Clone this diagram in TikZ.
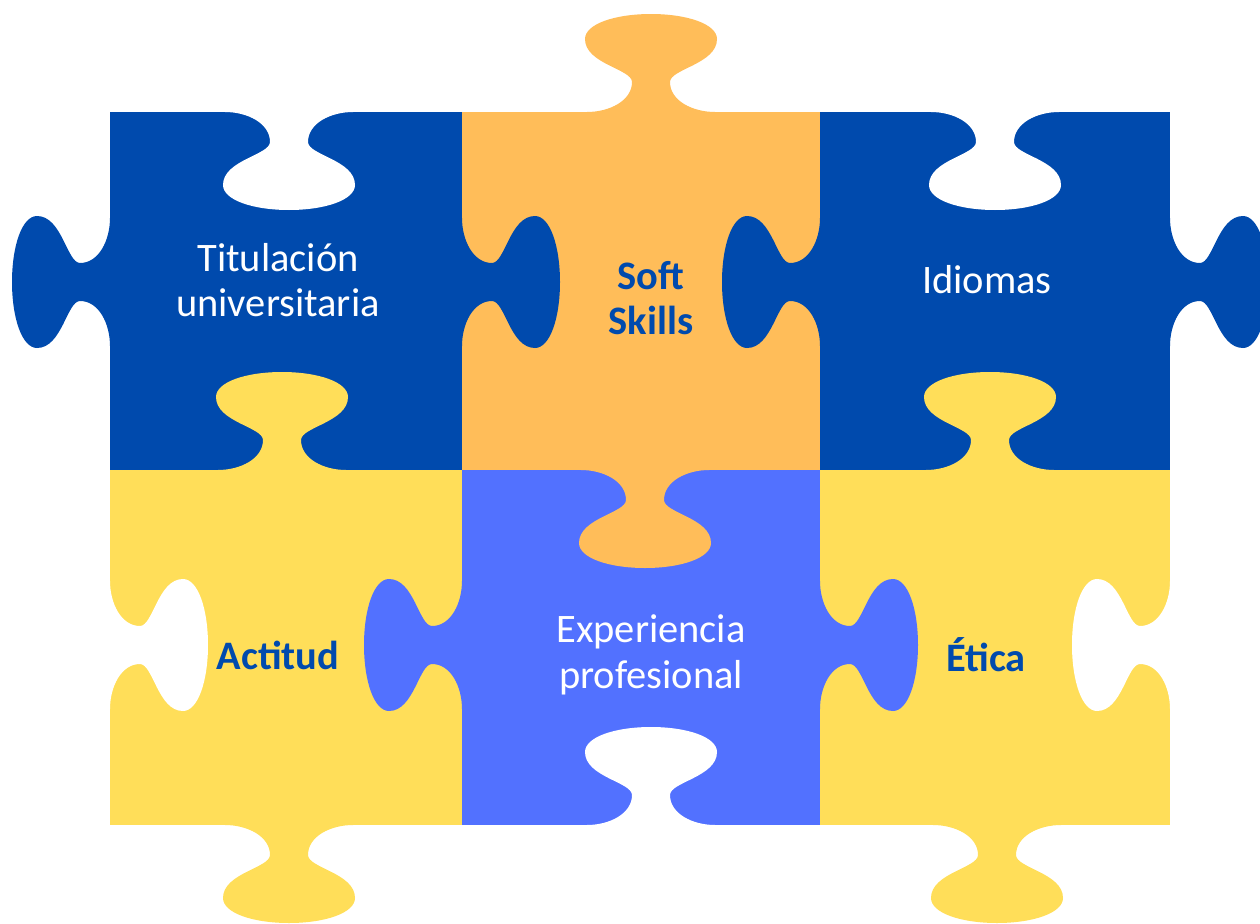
\documentclass[tikz,border=0pt]{standalone}
\usepackage{fontspec}
\setmainfont{Carlito}
\usepackage{tikz}
\usepackage{xcolor}
\usetikzlibrary{positioning}
\definecolor{darkblue}{RGB}{0, 74, 173}
\definecolor{softorange}{RGB}{255, 189, 89}
\definecolor{lightblue}{RGB}{82, 113, 255}
\definecolor{softyellow}{RGB}{255, 222, 89}

\tikzset{
  knob/.pic={
    \path[pic actions] (-64,0) .. controls (-42,0) and (-19,11) .. (-19,30)
      .. controls (-19,43) and (-66,48) .. (-66,73)
      .. controls (-66,88) and (-36,98) .. (0,98)
      .. controls (36,98) and (66,88) .. (66,73)
      .. controls (66,48) and (19,43) .. (19,30)
      .. controls (19,11) and (42,0) .. (64,0) -- cycle;
  },
  lbl/.style={align=center, inner sep=0pt, font=\fontsize{11.5}{13}\selectfont},
  bold lbl/.style={lbl, font=\fontsize{11.5}{13}\selectfont\bfseries, text=darkblue}
}

\begin{document}
\begin{tikzpicture}[x=0.01cm, y=-0.01cm]
  \fill[white] (0,0) rectangle (1260,924);
  \useasboundingbox (0,0) rectangle (1260,924);
  % the six tiles
  \fill[darkblue]   (110,112) rectangle (462,470);
  \fill[softorange] (462,112) rectangle (820,470);
  \fill[darkblue]   (820,112) rectangle (1170,470);
  \fill[softyellow] (110,470) rectangle (462,825);
  \fill[lightblue]  (462,470) rectangle (820,825);
  \fill[softyellow] (820,470) rectangle (1170,825);
  % tabs and holes: x/y/turn/colour (turn 0 = down)
  \foreach \x/\y/\a/\c in {289/112/0/white, 110/282/-90/darkblue, 462/282/90/darkblue,
      651/112/180/softorange, 820/282/-90/darkblue, 995/112/0/white, 1170/282/90/darkblue,
      282/470/180/softyellow, 645/470/0/softorange, 990/470/180/softyellow,
      110/645/90/white, 462/645/-90/lightblue, 820/645/90/lightblue, 1170/645/-90/white,
      289/825/0/softyellow, 651/825/180/white, 997/825/0/softyellow}
    \pic[fill=\c, rotate=\a] at (\x,\y) {knob};
  % labels
  \node[lbl, text=white] (titulacion) at (278,280) {Titulación\\universitaria};
  \node[bold lbl] (soft) at (651,298) {Soft\\Skills};
  \node[lbl, text=white] (idiomas) at (987,280) {Idiomas};
  \node[bold lbl] (actitud) at (278,655) {Actitud};
  \node[lbl, text=white] (experiencia) at (651,655) {Experiencia\\profesional};
  \node[bold lbl] (etica) at (986,655) {Ética};
\end{tikzpicture}
\end{document}
